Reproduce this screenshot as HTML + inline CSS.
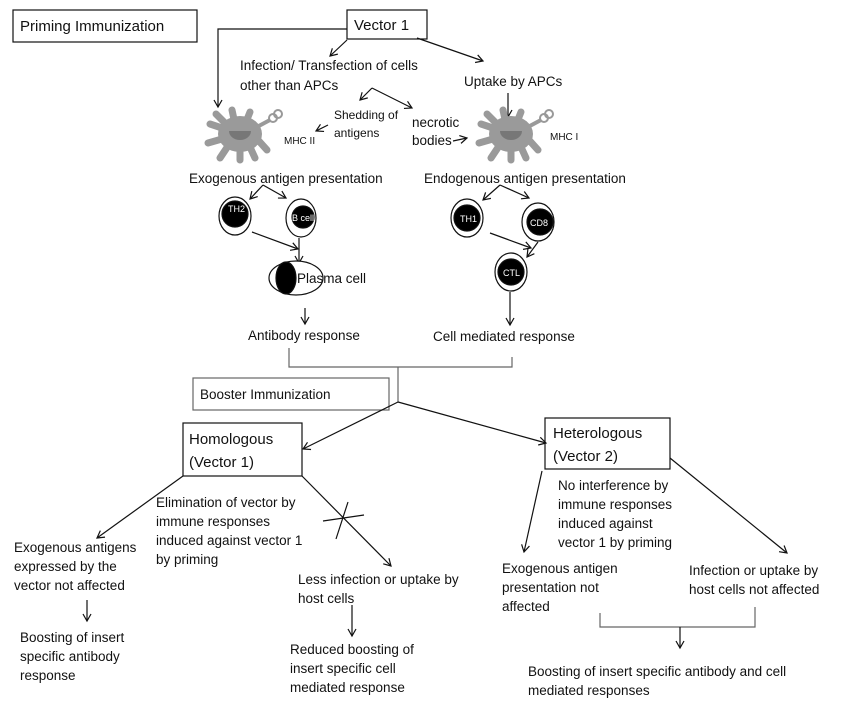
<!DOCTYPE html>
<html><head><meta charset="utf-8"><style>
html,body{margin:0;padding:0;background:#fff}
svg{display:block}
text{font-family:"Liberation Sans",sans-serif;font-size:13.5px;fill:#111}
.s{font-size:10px}
.w{fill:#fff;font-size:9px}
</style></head><body>
<svg width="843" height="705" viewBox="0 0 843 705" xmlns="http://www.w3.org/2000/svg">
<defs>
<marker id="a" markerWidth="10" markerHeight="10" refX="8" refY="5" orient="auto" markerUnits="userSpaceOnUse">
<path d="M1,1 L8,5 L1,9" fill="none" stroke="#111" stroke-width="1.2"/></marker>
<g id="dc">
<g stroke="#9a9a9a" stroke-width="7" stroke-linecap="round" fill="none">
<path d="M-5,-10 L-8,-24"/><path d="M6,-12 L10,-22"/><path d="M-15,-5 L-30,-10"/><path d="M-18,5 L-32,9"/>
<path d="M-12,12 L-20,24"/><path d="M0,15 L0,26"/><path d="M10,13 L15,24"/><path d="M18,6 L27,16"/><path d="M-16,-12 L-24,-20"/>
</g>
<ellipse cx="0" cy="0" rx="22" ry="18" fill="#9a9a9a"/>
<path d="M-11,-3 A11,9 0 0 0 11,-3 Z" fill="#777"/>
<path d="M15,-6 L30,-14" stroke="#9a9a9a" stroke-width="4"/>
<circle cx="33" cy="-16" r="4" fill="none" stroke="#999" stroke-width="2"/>
<circle cx="38" cy="-20" r="4" fill="none" stroke="#999" stroke-width="2"/>
</g>
</defs>
<g fill="none" stroke="#111" stroke-width="1.2">
<rect x="13" y="10" width="184" height="32"/>
<rect x="347" y="10" width="80" height="29"/>
<rect x="193" y="378" width="196" height="32" stroke="#666"/>
<rect x="183" y="423" width="119" height="53"/>
<rect x="545" y="418" width="125" height="51"/>
<polyline points="347,29 218,29 218,107" marker-end="url(#a)"/>
<line x1="347" y1="40" x2="330" y2="56" marker-end="url(#a)"/>
<line x1="417" y1="38" x2="483" y2="61" marker-end="url(#a)"/>
<line x1="508" y1="93" x2="508" y2="117" marker-end="url(#a)"/>
<polyline points="372,88 412,108" marker-end="url(#a)"/>
<line x1="372" y1="88" x2="360" y2="100" marker-end="url(#a)"/>
<line x1="328" y1="125" x2="316" y2="131" marker-end="url(#a)"/>
<line x1="453" y1="141" x2="467" y2="138" marker-end="url(#a)"/>
<line x1="263" y1="185" x2="250" y2="199" marker-end="url(#a)"/>
<line x1="263" y1="185" x2="286" y2="198" marker-end="url(#a)"/>
<line x1="500" y1="185" x2="483" y2="200" marker-end="url(#a)"/>
<line x1="500" y1="185" x2="529" y2="198" marker-end="url(#a)"/>
<line x1="252" y1="232" x2="298" y2="249" marker-end="url(#a)"/>
<line x1="299" y1="238" x2="299" y2="263" marker-end="url(#a)"/>
<line x1="490" y1="233" x2="531" y2="248" marker-end="url(#a)"/>
<line x1="538" y1="242" x2="527" y2="257" marker-end="url(#a)"/>
<line x1="305" y1="308" x2="305" y2="324" marker-end="url(#a)"/>
<line x1="510" y1="292" x2="510" y2="325" marker-end="url(#a)"/>
<polyline points="289,348 289,367 512,367 512,357" stroke="#666"/>
<line x1="398" y1="367" x2="398" y2="402" stroke="#666"/>
<line x1="398" y1="402" x2="303" y2="449" marker-end="url(#a)"/>
<line x1="398" y1="402" x2="546" y2="443" marker-end="url(#a)"/>
<line x1="183" y1="476" x2="97" y2="538" marker-end="url(#a)"/>
<line x1="302" y1="476" x2="391" y2="566" marker-end="url(#a)"/>
<line x1="323" y1="521" x2="364" y2="515"/>
<line x1="348" y1="502" x2="336" y2="539"/>
<line x1="87" y1="600" x2="87" y2="621" marker-end="url(#a)"/>
<line x1="352" y1="605" x2="352" y2="636" marker-end="url(#a)"/>
<line x1="542" y1="471" x2="524" y2="552" marker-end="url(#a)"/>
<line x1="670" y1="458" x2="787" y2="553" marker-end="url(#a)"/>
<polyline points="600,613 600,627 755,627 755,607" stroke="#666"/>
<line x1="680" y1="627" x2="680" y2="648" marker-end="url(#a)"/>
</g>
<use href="#dc" x="240" y="134"/>
<use href="#dc" x="511" y="134"/>
<g stroke="#111" stroke-width="1.2">
<ellipse cx="235" cy="216" rx="16" ry="19" fill="#fff"/><circle cx="235" cy="214" r="13" fill="#000"/>
<ellipse cx="301" cy="218" rx="15" ry="19" fill="#fff"/><circle cx="303" cy="217" r="11" fill="#000"/>
<ellipse cx="467" cy="218" rx="16" ry="19" fill="#fff"/><circle cx="467" cy="218" r="13" fill="#000"/>
<ellipse cx="538" cy="222" rx="16" ry="19" fill="#fff"/><circle cx="540" cy="222" r="13" fill="#000"/>
<ellipse cx="511" cy="272" rx="16" ry="19" fill="#fff"/><circle cx="511" cy="272" r="13" fill="#000"/>
<ellipse cx="296" cy="278" rx="27" ry="17" fill="#fff"/><ellipse cx="286" cy="278" rx="10" ry="16" fill="#000"/>
</g>
<text class="w" x="228" y="212">TH2</text>
<text class="w" x="292" y="221">B cell</text>
<text class="w" x="460" y="222">TH1</text>
<text class="w" x="530" y="226">CD8</text>
<text class="w" x="503" y="276">CTL</text>
<text x="20" y="31" style="font-size:15px">Priming Immunization</text>
<text x="354" y="30" style="font-size:15px">Vector 1</text>
<text x="240" y="70">Infection/ Transfection of cells</text>
<text x="240" y="90">other than APCs</text>
<text x="464" y="86">Uptake by APCs</text>
<text x="334" y="119" style="font-size:12px">Shedding of</text>
<text x="334" y="137" style="font-size:12px">antigens</text>
<text x="412" y="127">necrotic</text>
<text x="412" y="145">bodies</text>
<text class="s" x="284" y="144">MHC II</text>
<text class="s" x="550" y="140">MHC I</text>
<text x="189" y="183">Exogenous antigen presentation</text>
<text x="424" y="183">Endogenous antigen presentation</text>
<text x="297" y="283">Plasma cell</text>
<text x="248" y="340">Antibody response</text>
<text x="433" y="341">Cell mediated response</text>
<text x="200" y="399">Booster Immunization</text>
<text x="189" y="444" style="font-size:15px">Homologous</text>
<text x="189" y="467" style="font-size:15px">(Vector 1)</text>
<text x="553" y="438" style="font-size:15px">Heterologous</text>
<text x="553" y="461" style="font-size:15px">(Vector 2)</text>
<text x="156" y="507">Elimination of vector by</text>
<text x="156" y="526">immune responses</text>
<text x="156" y="545">induced against vector 1</text>
<text x="156" y="564">by priming</text>
<text x="14" y="552">Exogenous antigens</text>
<text x="14" y="571">expressed by the</text>
<text x="14" y="590">vector not affected</text>
<text x="20" y="642">Boosting of insert</text>
<text x="20" y="661">specific antibody</text>
<text x="20" y="680">response</text>
<text x="298" y="584">Less infection or uptake by</text>
<text x="298" y="603">host cells</text>
<text x="290" y="654">Reduced boosting of</text>
<text x="290" y="673">insert specific cell</text>
<text x="290" y="692">mediated response</text>
<text x="558" y="490">No interference by</text>
<text x="558" y="509">immune responses</text>
<text x="558" y="528">induced against</text>
<text x="558" y="547">vector 1 by priming</text>
<text x="502" y="573">Exogenous antigen</text>
<text x="502" y="592">presentation not</text>
<text x="502" y="611">affected</text>
<text x="689" y="575">Infection or uptake by</text>
<text x="689" y="594">host cells not affected</text>
<text x="528" y="676">Boosting of insert specific antibody and cell</text>
<text x="528" y="695">mediated responses</text>
</svg>
</body></html>
